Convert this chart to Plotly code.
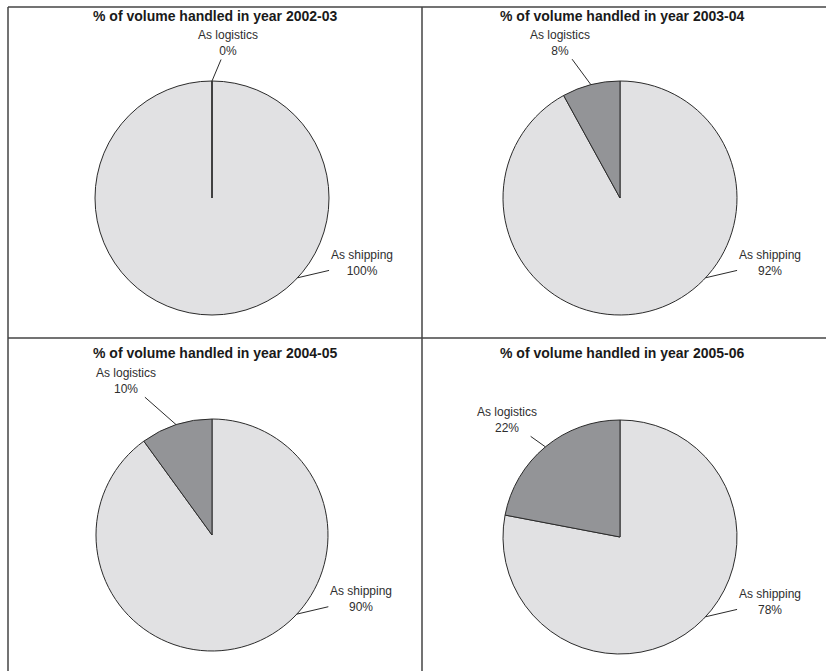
import math
import plotly.graph_objects as go

# Share of volume handled, by business line and financial year
years = ["2002-03", "2003-04", "2004-05", "2005-06"]
segments = ["As logistics", "As shipping"]
logistics_pct = [0, 8, 10, 22]
shipping_pct = [100, 92, 90, 78]

W, H = 826, 671

# Pie centre / radius in pixels for each panel, plus title position
panel_geom = [
    dict(cx=212, cy=198, r=117, tx=215, ty=16),
    dict(cx=620, cy=198, r=117, tx=622, ty=16),
    dict(cx=212, cy=535, r=116, tx=215, ty=353),
    dict(cx=620, cy=537, r=117, tx=622, ty=353),
]
# label text offsets (pixels) from the point where the leader meets the pie
logistics_label_offset = [(16, -38), (-31, -42), (-50, -44), (-38, -27)]
shipping_label_offset = (64, -15)
shipping_attach_deg = 133  # clockwise from 12 o'clock

DARK = "#939497"
LIGHT = "#e1e1e3"
EDGE = "#2b2b2b"
TEXT = "#2e2e2e"
FONT = "Liberation Sans, Arial, sans-serif"


def px_to_paper(x, y):
    return x / W, 1 - y / H


fig = go.Figure()
annotations = []
shapes = []

for i, year in enumerate(years):
    g = panel_geom[i]
    x0, y1 = px_to_paper(g["cx"] - g["r"], g["cy"] - g["r"])
    x1, y0 = px_to_paper(g["cx"] + g["r"], g["cy"] + g["r"])
    total = logistics_pct[i] + shipping_pct[i]
    # shipping runs clockwise from 12 o'clock, logistics closes the circle
    fig.add_trace(go.Pie(
        labels=[segments[1], segments[0]],
        values=[shipping_pct[i], logistics_pct[i]],
        sort=False,
        direction="clockwise",
        rotation=0,
        domain=dict(x=[x0, x1], y=[y0, y1]),
        marker=dict(colors=[LIGHT, DARK], line=dict(color=EDGE, width=1)),
        textinfo="none",
        hoverinfo="label+percent",
        showlegend=False,
    ))

    # a zero-share slice still shows its boundary radius
    if logistics_pct[i] == 0:
        cx0, cy0 = px_to_paper(g["cx"], g["cy"])
        ex0, ey0 = px_to_paper(g["cx"], g["cy"] - g["r"])
        shapes.append(dict(type="line", xref="paper", yref="paper",
                           x0=cx0, y0=cy0, x1=ex0, y1=ey0,
                           line=dict(color=EDGE, width=1)))

    # panel title
    tx, ty = px_to_paper(g["tx"], g["ty"])
    annotations.append(dict(
        x=tx, y=ty, xref="paper", yref="paper", showarrow=False,
        text=f"% of volume handled in year {year}",
        font=dict(family=FONT, size=14, color="#1a1a1a", weight="bold"),
        xanchor="center", yanchor="middle",
    ))

    # logistics label: attached at slice mid-angle (counterclockwise from top)
    mid = 360 * logistics_pct[i] / total / 2
    ex = g["cx"] - g["r"] * math.sin(math.radians(mid))
    ey = g["cy"] - g["r"] * math.cos(math.radians(mid))
    px_, py_ = px_to_paper(ex, ey)
    ox, oy = logistics_label_offset[i]
    annotations.append(dict(
        x=px_, y=py_, xref="paper", yref="paper",
        text=f"{segments[0]}<br>{round(100 * logistics_pct[i] / total)}%",
        showarrow=True, arrowhead=0, arrowwidth=1, arrowcolor=EDGE,
        ax=ox, ay=oy, standoff=0,
        font=dict(family=FONT, size=12, color=TEXT),
    ))

    # shipping label
    a = math.radians(shipping_attach_deg)
    ex = g["cx"] + g["r"] * math.sin(a)
    ey = g["cy"] - g["r"] * math.cos(a)
    px_, py_ = px_to_paper(ex, ey)
    ox, oy = shipping_label_offset
    annotations.append(dict(
        x=px_, y=py_, xref="paper", yref="paper",
        text=f"{segments[1]}<br>{round(100 * shipping_pct[i] / total)}%",
        showarrow=True, arrowhead=0, arrowwidth=1, arrowcolor=EDGE,
        ax=ox, ay=oy, standoff=0,
        font=dict(family=FONT, size=12, color=TEXT),
    ))

# panel frame lines
LINE = dict(color="#444444", width=1.5)
for (xa, ya, xb, yb) in [(8, 7, W, 7), (8, 7, 8, H), (8, 338, W, 338), (422, 7, 422, H)]:
    p0 = px_to_paper(xa, ya)
    p1 = px_to_paper(xb, yb)
    shapes.append(dict(type="line", xref="paper", yref="paper",
                       x0=p0[0], y0=p0[1], x1=p1[0], y1=p1[1], line=LINE))

fig.update_layout(
    width=W, height=H,
    margin=dict(l=0, r=0, t=0, b=0),
    paper_bgcolor="white", plot_bgcolor="white",
    annotations=annotations, shapes=shapes,
)

fig.write_html("out.html")
